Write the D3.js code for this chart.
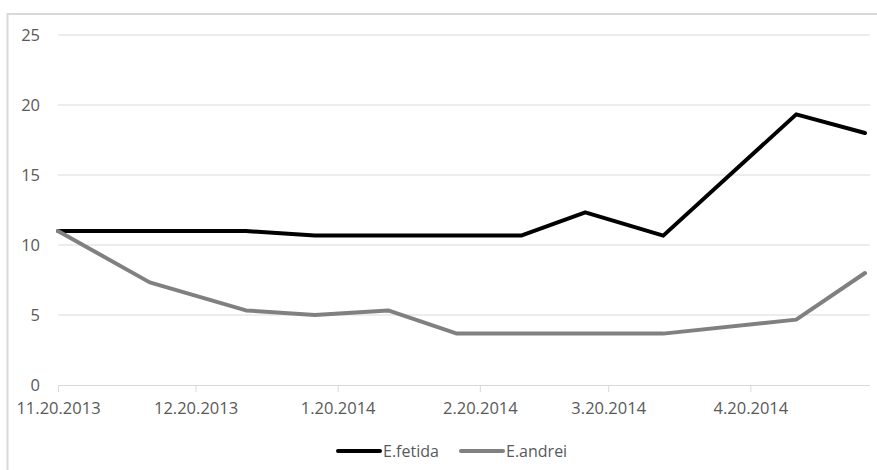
<!DOCTYPE html>
<html>
<head>
<meta charset="utf-8">
<script src="https://cdn.jsdelivr.net/npm/d3@7"></script>
<style>
  html, body { margin: 0; padding: 0; background: #fff; }
  svg { display: block; }
  text { font-family: "Open Sans", "Liberation Sans", sans-serif; fill: #595959; }
</style>
</head>
<body>
<svg id="chart" width="877" height="470"></svg>
<script>
// Sampling dates (month.day.year)
const dates = ["11.20.2013", "12.10.2013", "12.31.2013", "1.15.2014", "1.31.2014",
               "2.15.2014", "3.1.2014", "3.15.2014", "4.1.2014", "4.30.2014", "5.15.2014"];
// Mean counts per sampling date
const fetida = [11, 11, 11, 10.67, 10.67, 10.67, 10.67, 12.33, 10.67, 19.33, 18];
const andrei = [11, 7.33, 5.33, 5, 5.33, 3.67, 3.67, 3.67, 3.67, 4.67, 8];
const seriesNames = ["E.fetida", "E.andrei"];
const seriesColors = ["#000000", "#808080"];
const xTickLabels = ["11.20.2013", "12.20.2013", "1.20.2014", "2.20.2014", "3.20.2014", "4.20.2014"];
const yTicks = [0, 5, 10, 15, 20, 25];

const parse = d3.timeParse("%m.%d.%Y");
const svg = d3.select("#chart");

// Chart frame (only the top and left edges fall inside the view)
svg.append("rect")
  .attr("x", 7.5).attr("y", 14).attr("width", 900).attr("height", 500)
  .attr("fill", "none").attr("stroke", "#d9d9d9").attr("stroke-width", 2);

const x = d3.scaleTime()
  .domain([parse(dates[0]), parse(dates[dates.length - 1])])
  .range([58, 865]);
const y = d3.scaleLinear().domain([0, 25]).range([385, 35]);
const gridRight = 870;

// Horizontal gridlines
svg.append("g").selectAll("line")
  .data(yTicks.filter(v => v > 0))
  .join("line")
  .attr("x1", 58).attr("x2", gridRight)
  .attr("y1", d => y(d)).attr("y2", d => y(d))
  .attr("stroke", "#d9d9d9").attr("stroke-width", 1);

// Y axis labels
const yAxis = d3.axisLeft(y).tickValues(yTicks).tickSize(0).tickPadding(0);
const gy = svg.append("g").attr("transform", "translate(40,0)").call(yAxis);
gy.select(".domain").remove();
gy.selectAll("text")
  .attr("font-size", 16.5).attr("font-family", "'Open Sans', sans-serif")
  .attr("fill", "#595959").attr("dy", "0.35em");

// X axis line with ticks at each month label
const xTickDates = xTickLabels.map(parse);
const xAxis = d3.axisBottom(x).tickValues(xTickDates)
  .tickFormat((d, i) => xTickLabels[i]).tickSize(7).tickSizeOuter(0).tickPadding(10);
const gx = svg.append("g").attr("transform", "translate(0,385)").call(xAxis);
gx.select(".domain").attr("d", `M58,0.5H${gridRight}`).attr("stroke", "#d9d9d9");
gx.selectAll(".tick line").attr("stroke", "#d9d9d9");
gx.selectAll("text")
  .attr("font-size", 16.5).attr("font-family", "'Open Sans', sans-serif")
  .attr("fill", "#595959");

// Series lines
const line = d3.line()
  .x((d, i) => x(parse(dates[i])))
  .y(d => y(d));

[fetida, andrei].forEach((vals, k) => {
  svg.append("path")
    .datum(vals)
    .attr("d", line)
    .attr("fill", "none")
    .attr("stroke", seriesColors[k])
    .attr("stroke-width", 4)
    .attr("stroke-linejoin", "round")
    .attr("stroke-linecap", "round");
});

// Legend
const legendItems = [
  { x1: 338, x2: 380, tx: 383 },
  { x1: 461, x2: 503, tx: 506 }
];
const lg = svg.append("g");
legendItems.forEach((it, k) => {
  lg.append("line")
    .attr("x1", it.x1).attr("x2", it.x2).attr("y1", 451).attr("y2", 451)
    .attr("stroke", seriesColors[k]).attr("stroke-width", 4)
    .attr("stroke-linecap", "round");
  lg.append("text")
    .attr("x", it.tx).attr("y", 451).attr("dy", "0.35em")
    .attr("font-size", 16)
    .text(seriesNames[k]);
});
</script>
</body>
</html>
